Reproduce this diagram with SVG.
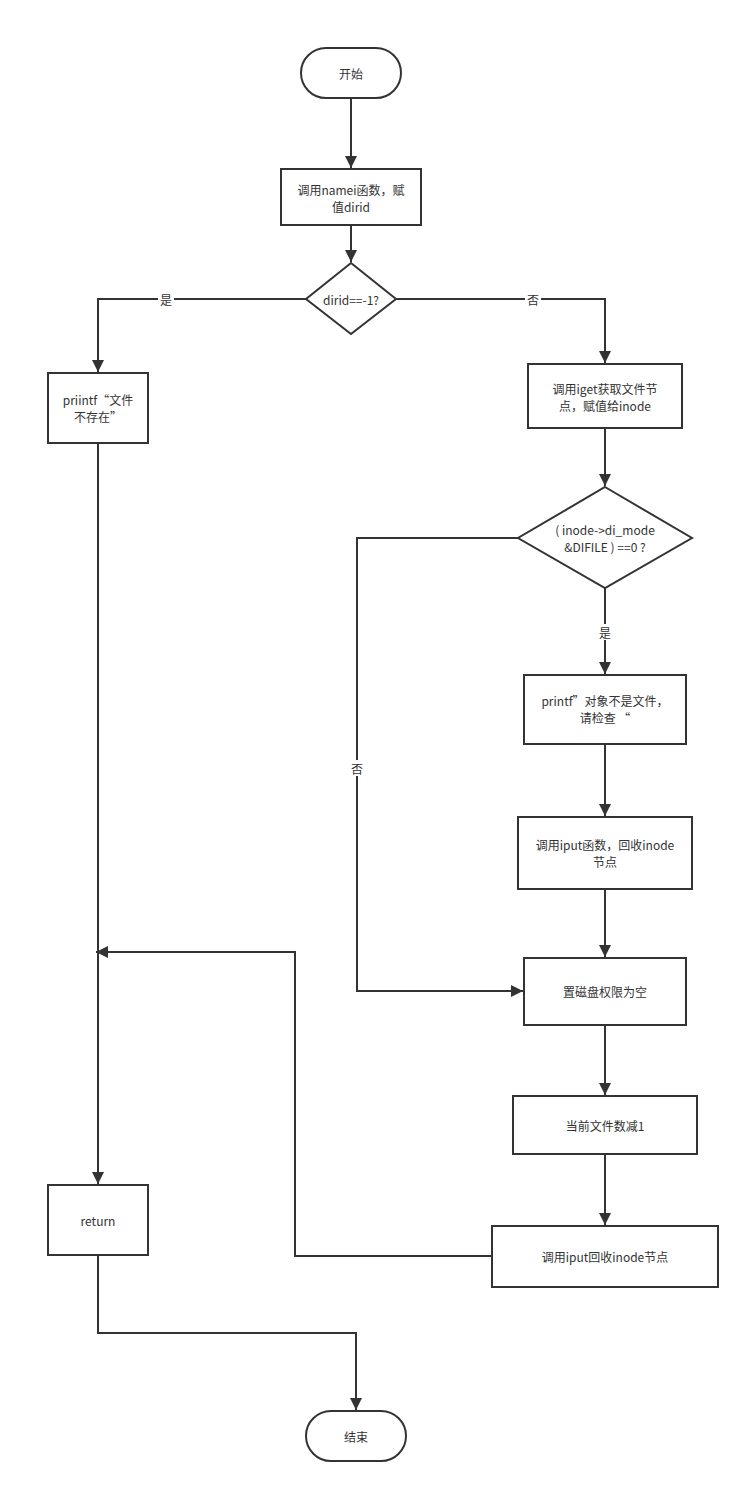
<svg xmlns="http://www.w3.org/2000/svg" width="750" height="1493" viewBox="0 0 750 1493">
<style>
  .shape { fill: #ffffff; stroke: #333333; stroke-width: 2; }
  .edge { fill: none; stroke: #333333; stroke-width: 2; }
  .label { font-family: "Noto Sans CJK SC", "Noto Sans", sans-serif; font-size: 12px; fill: #333333; text-anchor: middle; dominant-baseline: central; }
  .elabel { font-family: "Noto Sans CJK SC", "Noto Sans", sans-serif; font-size: 12px; fill: #333333; text-anchor: middle; dominant-baseline: central; }
  .bg { fill: #ffffff; }
</style>
<defs>
  <marker id="arr" viewBox="0 0 14 14" refX="14" refY="7" markerWidth="12" markerHeight="14" markerUnits="userSpaceOnUse" orient="auto">
    <path d="M0,0 L14,7 L0,14 z" fill="#333333"/>
  </marker>
</defs>
<rect width="750" height="1493" fill="#ffffff"/>

<g id="connectors">
  <path class="edge" d="M351,98 L351,168" marker-end="url(#arr)"/>
  <path class="edge" d="M351,225 L351,262" marker-end="url(#arr)"/>
  <path class="edge" d="M306,299 L98,299 L98,372" marker-end="url(#arr)"/>
  <path class="edge" d="M396,299 L605,299 L605,363" marker-end="url(#arr)"/>
  <path class="edge" d="M605,428 L605,486" marker-end="url(#arr)"/>
  <path class="edge" d="M605,588 L605,674" marker-end="url(#arr)"/>
  <path class="edge" d="M605,744 L605,816" marker-end="url(#arr)"/>
  <path class="edge" d="M605,889 L605,957" marker-end="url(#arr)"/>
  <path class="edge" d="M518,538 L357,538 L357,991 L523,991" marker-end="url(#arr)"/>
  <path class="edge" d="M605,1025 L605,1095" marker-end="url(#arr)"/>
  <path class="edge" d="M605,1154 L605,1225" marker-end="url(#arr)"/>
  <path class="edge" d="M492,1256 L295,1256 L295,952 L96,952" marker-end="url(#arr)"/>
  <path class="edge" d="M98,443 L98,1184" marker-end="url(#arr)"/>
  <path class="edge" d="M98,1255 L98,1333 L356,1333 L356,1410" marker-end="url(#arr)"/>
  <rect class="bg" x="158" y="291" width="16" height="16"/>
  <text class="elabel" x="166" y="299">是</text>
  <rect class="bg" x="525" y="291" width="16" height="16"/>
  <text class="elabel" x="533" y="299">否</text>
  <rect class="bg" x="597" y="624" width="16" height="16"/>
  <text class="elabel" x="605" y="632">是</text>
  <rect class="bg" x="349" y="760" width="16" height="16"/>
  <text class="elabel" x="357" y="768">否</text>
</g>

<g id="start">
  <rect class="shape" x="301" y="48" width="100" height="50" rx="25" ry="25"/>
  <text class="label" x="351" y="73">开始</text>
</g>

<g id="namei">
  <rect class="shape" x="281" y="169" width="140" height="56"/>
  <text class="label" x="351" y="189">调用namei函数，赋</text>
  <text class="label" x="351" y="206">值dirid</text>
</g>

<g id="check-dirid">
  <polygon class="shape" points="351,263 396,299 351,334 306,299"/>
  <text class="label" x="351" y="299">dirid==-1?</text>
</g>

<g id="not-exist">
  <rect class="shape" x="48" y="373" width="100" height="70"/>
  <text class="label" x="98" y="399">priintf“文件</text>
  <text class="label" x="98" y="416">不存在”</text>
</g>

<g id="iget">
  <rect class="shape" x="528" y="364" width="154" height="64"/>
  <text class="label" x="605" y="388">调用iget获取文件节</text>
  <text class="label" x="605" y="405">点，赋值给inode</text>
</g>

<g id="check-mode">
  <polygon class="shape" points="605,487 692,538 605,588 518,538"/>
  <text class="label" x="605" y="529">( inode-&gt;di_mode</text>
  <text class="label" x="605" y="546">&amp;DIFILE ) ==0 ?</text>
</g>

<g id="not-file">
  <rect class="shape" x="524" y="675" width="162" height="69"/>
  <text class="label" x="605" y="700">printf”对象不是文件，</text>
  <text class="label" x="605" y="717">请检查 “</text>
</g>

<g id="iput-func">
  <rect class="shape" x="518" y="817" width="174" height="72"/>
  <text class="label" x="605" y="844">调用iput函数，回收inode</text>
  <text class="label" x="605" y="861">节点</text>
</g>

<g id="clear-perm">
  <rect class="shape" x="524" y="958" width="162" height="67"/>
  <text class="label" x="605" y="991">置磁盘权限为空</text>
</g>

<g id="dec-count">
  <rect class="shape" x="513" y="1096" width="184" height="58"/>
  <text class="label" x="605" y="1125">当前文件数减1</text>
</g>

<g id="iput-release">
  <rect class="shape" x="492" y="1226" width="226" height="61"/>
  <text class="label" x="605" y="1256">调用iput回收inode节点</text>
</g>

<g id="return">
  <rect class="shape" x="48" y="1185" width="100" height="70"/>
  <text class="label" x="98" y="1220">return</text>
</g>

<g id="end">
  <rect class="shape" x="306" y="1411" width="100" height="50" rx="25" ry="25"/>
  <text class="label" x="356" y="1436">结束</text>
</g>
</svg>
